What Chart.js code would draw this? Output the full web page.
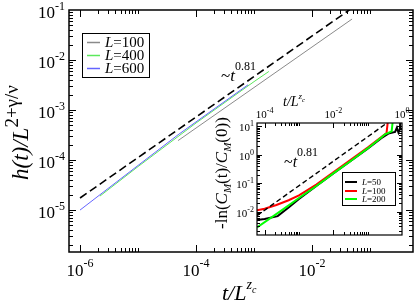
<!DOCTYPE html>
<html><head><meta charset="utf-8">
<script src="https://cdn.jsdelivr.net/npm/chart.js@4.4.1/dist/chart.umd.min.js"></script>
<style>
html,body{margin:0;padding:0;background:#fff;overflow:hidden;}
#wrap{position:relative;width:415px;height:303px;}
canvas{position:absolute;}
</style></head><body>
<div id="wrap">
<canvas id="main" width="415" height="303" style="left:0;top:0"></canvas>
<canvas id="inset" width="220" height="165" style="left:195px;top:80px"></canvas>
</div>
<script>
// ---------------- data: main panel ----------------
const mainSeriesNames = ['L=100', 'L=400', 'L=600'];
const mainFitX = [1e-6, 0.1];
const mainFitY = [1.74e-5, 0.195];
const mainL100X = [4.9e-5, 0.049];
const mainL100Y = [2.45e-4, 0.066];
const mainL400X = [2.2e-6, 1e-5, 1e-4, 1e-3, 1.8e-3];
const mainL400Y = [1.9e-5, 7.4e-5, 5.5e-4, 3.7e-3, 5.9e-3];
const mainL600X = [1e-6, 1e-5, 4.9e-5, 1e-4, 7.9e-4];
const mainL600Y = [1.0e-5, 7.8e-5, 3.2e-4, 5.8e-4, 3.2e-3];
const mainXTickLabels = ['10^-6', '10^-4', '10^-2'];
const mainYTickLabels = ['10^-5', '10^-4', '10^-3', '10^-2', '10^-1'];

// ---------------- data: inset ----------------
const insetSeriesNames = ['L=50', 'L=100', 'L=200'];
const insetFitX = [6e-5, 0.35];
const insetFitY = [7.2e-3, 12.5];
const insetL50X = [6e-5, 1e-4, 2.4e-4, 5e-4, 1e-3, 3.2e-3, 1e-2, 3.2e-2, 0.1, 0.25, 0.4, 0.63, 0.71, 0.79, 0.87, 0.89];
const insetL50Y = [5.0e-3, 5.5e-3, 6.9e-3, 1.38e-2, 2.75e-2, 7.9e-2, 0.22, 0.60, 1.62, 3.8, 5.5, 6.3, 8.9, 6.0, 7.9, 16];
const insetL100X = [6e-5, 1e-4, 2.2e-4, 5e-4, 1e-3, 3.2e-3, 1e-2, 3.2e-2, 0.1, 0.25, 0.355, 0.39];
const insetL100Y = [1.12e-2, 1.26e-2, 1.7e-2, 2.5e-2, 3.7e-2, 8.9e-2, 0.24, 0.66, 1.78, 4.2, 5.8, 16];
const insetL200X = [6e-5, 3.2e-4, 1e-3, 3.2e-3, 1e-2, 3.2e-2, 0.1, 0.25, 0.32, 0.5, 0.54];
const insetL200Y = [2.75e-3, 1.12e-2, 3.0e-2, 7.9e-2, 0.22, 0.60, 1.66, 4.0, 5.2, 6.6, 16];
const insetXTickLabels = ['10^-4', '10^-2', '10^0'];
const insetYTickLabels = ['10^-2', '10^-1', '10^0', '10^1'];

// ---------------- helpers ----------------
const SERIF = "'Liberation Serif','Times New Roman',serif";
function pts(xs, ys) { return xs.map((x, i) => ({ x: x, y: ys[i] })); }
function parseLab(s) { const p = s.split('^'); return { base: p[0], exp: p[1], value: Math.pow(10, parseFloat(p[1])) }; }
function rich(ctx, x, y, segs, align) {
  let w = 0;
  for (const s of segs) { ctx.font = s.f; s.w = ctx.measureText(s.t).width; w += s.w; }
  let cx = align === 'center' ? x - w / 2 : (align === 'right' ? x - w : x);
  ctx.textAlign = 'left'; ctx.textBaseline = 'alphabetic';
  for (const s of segs) { ctx.font = s.f; ctx.fillText(s.t, cx, y + (s.dy || 0)); cx += s.w; }
  return w;
}
function minorTicks(exps, ks) {
  const out = [];
  for (const e of exps) for (const k of ks) out.push(k * Math.pow(10, e));
  return out;
}
function drawFrame(chart, o) {
  const ctx = chart.ctx, a = chart.chartArea, xs = chart.scales.x, ys = chart.scales.y;
  ctx.save();
  ctx.strokeStyle = '#000'; ctx.lineWidth = 1;
  ctx.beginPath();
  const xt = o.xMajor.map(v => ({ v: v, L: o.maj })).concat(o.xMinor.map(v => ({ v: v, L: o.min })));
  for (const t of xt) {
    const p = xs.getPixelForValue(t.v);
    if (p < a.left + 1 || p > a.right - 1) continue;
    const px = Math.round(p) + 0.5;
    ctx.moveTo(px, a.bottom); ctx.lineTo(px, a.bottom - t.L);
    ctx.moveTo(px, a.top); ctx.lineTo(px, a.top + t.L);
  }
  const yt = o.yMajor.map(v => ({ v: v, L: o.maj })).concat(o.yMinor.map(v => ({ v: v, L: o.min })));
  for (const t of yt) {
    const p = ys.getPixelForValue(t.v);
    if (p < a.top + 1 || p > a.bottom - 1) continue;
    const py = Math.round(p) + 0.5;
    ctx.moveTo(a.left, py); ctx.lineTo(a.left + t.L, py);
    ctx.moveTo(a.right, py); ctx.lineTo(a.right - t.L, py);
  }
  ctx.stroke();
  ctx.lineWidth = o.frame;
  ctx.strokeRect(a.left, a.top, a.right - a.left, a.bottom - a.top);
  ctx.restore();
}
function legendLabel(ctx, x, y, label, size) {
  const p = label.split('=');
  rich(ctx, x, y, [
    { t: p[0], f: 'italic ' + size + 'px ' + SERIF },
    { t: '=' + p[1], f: size + 'px ' + SERIF }
  ], 'left');
}

// ---------------- main chart ----------------
const mainXLabs = mainXTickLabels.map(parseLab);
const mainYLabs = mainYTickLabels.map(parseLab);
const mainPlugin = {
  id: 'mainDecor',
  afterDatasetsDraw(chart) {
    const ctx = chart.ctx, a = chart.chartArea, xs = chart.scales.x, ys = chart.scales.y;
    drawFrame(chart, {
      xMajor: mainXLabs.map(l => l.value),
      xMinor: minorTicks([-8, -6, -4, -2, 0], [2, 3, 4, 5, 6, 7, 8, 9, 10]),
      yMajor: mainYLabs.map(l => l.value),
      yMinor: minorTicks([-7, -6, -5, -4, -3, -2, -1], [2, 3, 4, 5, 6, 7, 8, 9]),
      maj: 7, min: 4, frame: 1.5
    });
    ctx.save();
    ctx.fillStyle = '#000';
    for (const l of mainXLabs) {
      const px = xs.getPixelForValue(l.value);
      rich(ctx, px, 276, [
        { t: l.base, f: '17px ' + SERIF },
        { t: l.exp, f: '12px ' + SERIF, dy: -9 }
      ], 'center');
    }
    for (const l of mainYLabs) {
      const py = ys.getPixelForValue(l.value);
      rich(ctx, 65, py + 8, [
        { t: l.base, f: '17px ' + SERIF },
        { t: l.exp, f: '12px ' + SERIF, dy: -8 }
      ], 'right');
    }
    // x title
    rich(ctx, 222, 300, [
      { t: 't/L', f: 'italic 22px ' + SERIF },
      { t: 'z', f: 'italic 14px ' + SERIF, dy: -11 },
      { t: 'c', f: 'italic 10px ' + SERIF, dy: -7 }
    ], 'left');
    // y title
    ctx.save();
    ctx.translate(28, 180);
    ctx.rotate(-Math.PI / 2);
    rich(ctx, 0, 0, [
      { t: 'h(t)/L', f: 'italic 23px ' + SERIF },
      { t: '2+\u03B3/\u03BD', f: '19px ' + SERIF, dy: -10 }
    ], 'left');
    ctx.restore();
    // power-law annotation
    rich(ctx, 221, 81, [
      { t: '~', f: '17px ' + SERIF },
      { t: 't', f: 'italic 17px ' + SERIF },
      { t: '0.81', f: '12px ' + SERIF, dy: -11 }
    ], 'left');
    // legend
    ctx.lineWidth = 1; ctx.strokeStyle = '#000';
    ctx.strokeRect(82.5, 33.5, 67, 44);
    const rows = [42, 55, 68];
    mainSeriesNames.forEach((name, i) => {
      const ds = chart.data.datasets.find(d => d.label === name);
      ctx.strokeStyle = ds.borderColor; ctx.lineWidth = 1.5;
      ctx.beginPath(); ctx.moveTo(87, rows[i] + 0.5); ctx.lineTo(100, rows[i] + 0.5); ctx.stroke();
      ctx.fillStyle = '#000';
      legendLabel(ctx, 105, rows[i] + 5, name, 15);
    });
    ctx.restore();
  }
};

new Chart(document.getElementById('main'), {
  type: 'scatter',
  data: {
    datasets: [
      { label: 'fit', data: pts(mainFitX, mainFitY), showLine: true, borderColor: '#000', borderWidth: 1.6, borderDash: [8, 4], pointRadius: 0 },
      { label: mainSeriesNames[0], data: pts(mainL100X, mainL100Y), showLine: true, borderColor: '#8a8a8a', borderWidth: 1, pointRadius: 0 },
      { label: mainSeriesNames[2], data: pts(mainL600X, mainL600Y), showLine: true, borderColor: '#6464ff', borderWidth: 1, pointRadius: 0 },
      { label: mainSeriesNames[1], data: pts(mainL400X, mainL400Y), showLine: true, borderColor: '#5ce85c', borderWidth: 1, pointRadius: 0 }
    ]
  },
  options: {
    responsive: false, animation: false, devicePixelRatio: 1, events: [],
    layout: { padding: { left: 69, right: 2, top: 10, bottom: 51 } },
    plugins: { legend: { display: false }, tooltip: { enabled: false } },
    scales: {
      x: { type: 'logarithmic', display: false, min: 6.45e-7, max: 0.55 },
      y: { type: 'logarithmic', display: false, min: 1.45e-6, max: 0.1 }
    }
  },
  plugins: [mainPlugin]
});

// ---------------- inset chart ----------------
const insetXLabs = insetXTickLabels.map(parseLab);
const insetYLabs = insetYTickLabels.map(parseLab);
const insetPlugin = {
  id: 'insetDecor',
  beforeDatasetsDraw(chart) {
    const ctx = chart.ctx, a = chart.chartArea;
    ctx.save(); ctx.fillStyle = '#fff';
    ctx.fillRect(a.left, a.top, a.right - a.left, a.bottom - a.top);
    ctx.restore();
  },
  afterDatasetsDraw(chart) {
    const ctx = chart.ctx, a = chart.chartArea, xs = chart.scales.x, ys = chart.scales.y;
    drawFrame(chart, {
      xMajor: insetXLabs.map(l => l.value),
      xMinor: minorTicks([-6, -4, -2], [2, 3, 4, 5, 6, 7, 8, 9, 10]),
      yMajor: insetYLabs.map(l => l.value),
      yMinor: minorTicks([-4, -3, -2, -1, 0, 1], [2, 3, 4, 5, 6, 7, 8, 9]),
      maj: 5, min: 3, frame: 1.2
    });
    ctx.save();
    ctx.fillStyle = '#000';
    for (const l of insetXLabs) {
      const px = xs.getPixelForValue(l.value);
      rich(ctx, px, a.top - 5, [
        { t: l.base, f: '11px ' + SERIF },
        { t: l.exp, f: '8px ' + SERIF, dy: -5 }
      ], 'center');
    }
    for (const l of insetYLabs) {
      const py = ys.getPixelForValue(l.value);
      rich(ctx, a.left - 3, py + 5, [
        { t: l.base, f: '11px ' + SERIF },
        { t: l.exp, f: '8px ' + SERIF, dy: -5 }
      ], 'right');
    }
    // inset x title (top)
    rich(ctx, 88, 26, [
      { t: 't/L', f: 'italic 14px ' + SERIF },
      { t: 'z', f: 'italic 9px ' + SERIF, dy: -7 },
      { t: 'c', f: 'italic 7px ' + SERIF, dy: -4 }
    ], 'left');
    // inset y title
    ctx.save();
    ctx.translate(32, 149);
    ctx.rotate(-Math.PI / 2);
    const F = '17px ' + SERIF, FI = 'italic 17px ' + SERIF, FS = 'italic 11px ' + SERIF;
    rich(ctx, 0, 0, [
      { t: '-ln(', f: F }, { t: 'C', f: FI }, { t: 'M', f: FS, dy: 4 },
      { t: '(t)/', f: F }, { t: 'C', f: FI }, { t: 'M', f: FS, dy: 4 }, { t: '(0))', f: F }
    ], 'left');
    ctx.restore();
    // annotation
    rich(ctx, 89, 87, [
      { t: '~', f: '16px ' + SERIF },
      { t: 't', f: 'italic 16px ' + SERIF },
      { t: '0.81', f: '12px ' + SERIF, dy: -11 }
    ], 'left');
    // legend
    ctx.lineWidth = 1; ctx.strokeStyle = '#000';
    ctx.strokeRect(147.5, 92.5, 53, 33);
    const rows = [102, 111, 119];
    insetSeriesNames.forEach((name, i) => {
      const ds = chart.data.datasets.find(d => d.label === name);
      ctx.strokeStyle = ds.borderColor; ctx.lineWidth = 2;
      ctx.beginPath(); ctx.moveTo(150, rows[i]); ctx.lineTo(162, rows[i]); ctx.stroke();
      ctx.fillStyle = '#000';
      legendLabel(ctx, 167, rows[i] + 3, name, 9);
    });
    ctx.restore();
  }
};

new Chart(document.getElementById('inset'), {
  type: 'scatter',
  data: {
    datasets: [
      { label: 'fit', data: pts(insetFitX, insetFitY), showLine: true, borderColor: '#000', borderWidth: 1.4, borderDash: [5, 3], pointRadius: 0 },
      { label: insetSeriesNames[2], data: pts(insetL200X, insetL200Y), showLine: true, borderColor: '#00ff00', borderWidth: 2, pointRadius: 0 },
      { label: insetSeriesNames[1], data: pts(insetL100X, insetL100Y), showLine: true, borderColor: '#ff0000', borderWidth: 2, pointRadius: 0 },
      { label: insetSeriesNames[0], data: pts(insetL50X, insetL50Y), showLine: true, borderColor: '#000000', borderWidth: 2, pointRadius: 0 }
    ]
  },
  options: {
    responsive: false, animation: false, devicePixelRatio: 1, events: [],
    layout: { padding: { left: 62, right: 13, top: 43, bottom: 10 } },
    plugins: { legend: { display: false }, tooltip: { enabled: false } },
    scales: {
      x: { type: 'logarithmic', display: false, min: 6e-5, max: 1 },
      y: { type: 'logarithmic', display: false, min: 1.5e-3, max: 13 }
    }
  },
  plugins: [insetPlugin]
});
</script>
</body></html>
